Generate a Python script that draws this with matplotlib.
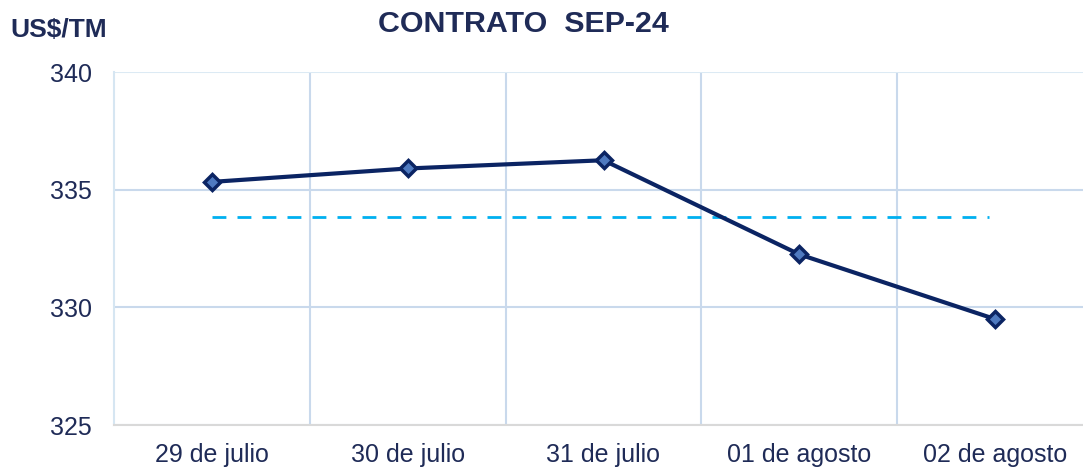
import matplotlib.pyplot as plt
from matplotlib.ticker import FixedLocator

# Daily prices for the SEP-24 contract
dates = ["29 de julio", "30 de julio", "31 de julio", "01 de agosto", "02 de agosto"]
prices = [335.33, 335.90, 336.25, 332.25, 329.50]
# Dashed reference level (period average)
average = 333.85
y_ticks = [325, 330, 335, 340]

plt.rcParams['font.family'] = ['Liberation Sans', 'DejaVu Sans']
text_color = '#1F2B57'
grid_color = '#C9D9EC'

fig = plt.figure(figsize=(10.83, 4.68), dpi=100)
ax = fig.add_axes([114 / 1083, 43 / 468, 979 / 1083, 353 / 468])

x = list(range(len(dates)))

# Average level as a dashed cyan line, stopping just short of the last day
ax.plot([x[0], x[-1] - 0.03], [average, average], color='#00B0F0', lw=2,
        dashes=(5, 4), zorder=2)

# Price line with diamond markers
ax.plot(x, prices, color='#0B2463', lw=3, marker='D', markersize=8.5,
        markerfacecolor='#4F7AC0', markeredgecolor='#0B2463',
        markeredgewidth=2.5, zorder=3)

ax.set_xlim(-0.5, len(dates) - 0.5)
ax.set_ylim(325, 340)
ax.set_yticks(y_ticks)
ax.set_xticks(x)
ax.set_xticklabels(dates)

# Gridlines: horizontal at each y tick, vertical between the categories
ax.xaxis.set_minor_locator(FixedLocator([i + 0.5 for i in x[:-1]]))
ax.grid(axis='y', which='major', color=grid_color, lw=1.5, zorder=0)
ax.grid(axis='x', which='minor', color=grid_color, lw=1.5, zorder=0)
# the top line is a paler tint in the original
ax.get_ygridlines()[-1].set_color('#DCEAF4')

ax.tick_params(axis='both', which='both', length=0, labelsize=18, colors=text_color)
ax.tick_params(axis='y', pad=16)
ax.tick_params(axis='x', pad=13)

for side in ['top', 'right']:
    ax.spines[side].set_visible(False)
ax.spines['left'].set_color('#D6E6F2')
ax.spines['left'].set_linewidth(1.5)
ax.spines['bottom'].set_color('#D9D9D9')
ax.spines['bottom'].set_linewidth(1.5)

fig.text(523 / 1083, 1 - 24 / 468, 'CONTRATO  SEP-24', ha='center', va='center',
         fontsize=21.9, fontweight='bold', color=text_color)
fig.text(10 / 1083, 1 - 30 / 468, 'US$/TM', ha='left', va='center',
         fontsize=19, fontweight='bold', color=text_color)

fig.savefig('out.png', dpi=100)
